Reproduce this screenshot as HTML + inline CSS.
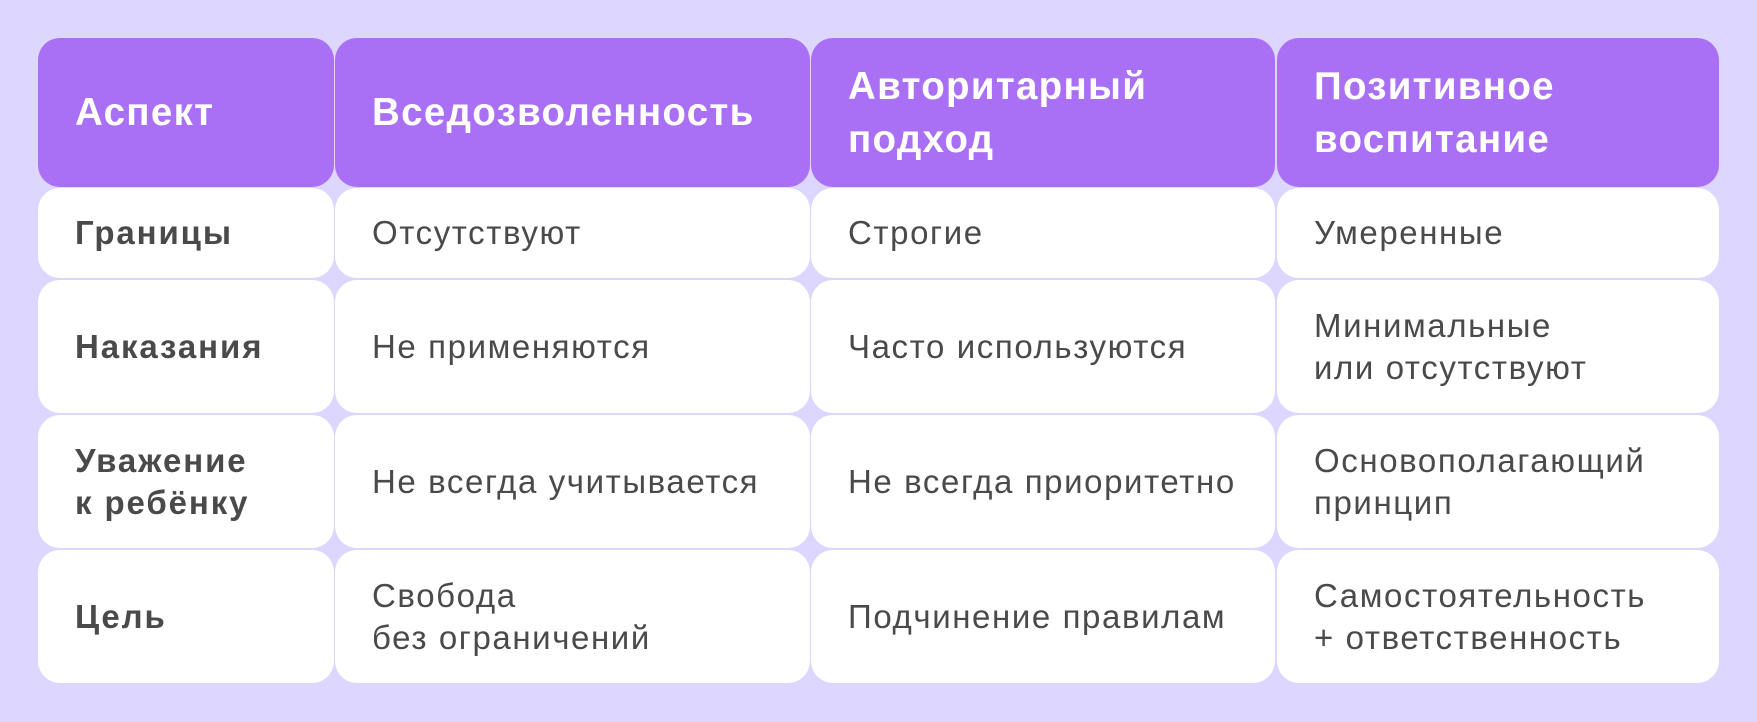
<!DOCTYPE html>
<html><head><meta charset="utf-8"><style>
body{margin:0;width:1757px;height:722px;background:#ddd6fe;position:relative;overflow:hidden;font-family:"Liberation Sans","DejaVu Sans",sans-serif}
.c{position:absolute;border-radius:22px;background:#fff;display:flex;align-items:center;box-sizing:border-box;padding-left:37px;color:#4a4a4a;font-size:33px;line-height:42px;letter-spacing:1.6px;white-space:nowrap}
.h{background:#a970f5;color:#fff;font-weight:bold;font-size:38.5px;line-height:53px;letter-spacing:1.3px}
.b{font-weight:bold;letter-spacing:1.9px}
</style></head><body>
<div class="c h" style="left:38px;top:38px;width:296px;height:149px">Аспект</div>
<div class="c h" style="left:335px;top:38px;width:475px;height:149px">Вседозволенность</div>
<div class="c h" style="left:811px;top:38px;width:464px;height:149px">Авторитарный<br>подход</div>
<div class="c h" style="left:1277px;top:38px;width:442px;height:149px">Позитивное<br>воспитание</div>

<div class="c b" style="left:38px;top:188px;width:296px;height:90px">Границы</div>
<div class="c" style="left:335px;top:188px;width:475px;height:90px">Отсутствуют</div>
<div class="c" style="left:811px;top:188px;width:464px;height:90px">Строгие</div>
<div class="c" style="left:1277px;top:188px;width:442px;height:90px">Умеренные</div>

<div class="c b" style="left:38px;top:280px;width:296px;height:133px">Наказания</div>
<div class="c" style="left:335px;top:280px;width:475px;height:133px">Не применяются</div>
<div class="c" style="left:811px;top:280px;width:464px;height:133px">Часто используются</div>
<div class="c" style="left:1277px;top:280px;width:442px;height:133px">Минимальные<br>или отсутствуют</div>

<div class="c b" style="left:38px;top:415px;width:296px;height:133px">Уважение<br>к ребёнку</div>
<div class="c" style="left:335px;top:415px;width:475px;height:133px">Не всегда учитывается</div>
<div class="c" style="left:811px;top:415px;width:464px;height:133px">Не всегда приоритетно</div>
<div class="c" style="left:1277px;top:415px;width:442px;height:133px">Основополагающий<br>принцип</div>

<div class="c b" style="left:38px;top:550px;width:296px;height:133px">Цель</div>
<div class="c" style="left:335px;top:550px;width:475px;height:133px">Свобода<br>без ограничений</div>
<div class="c" style="left:811px;top:550px;width:464px;height:133px">Подчинение правилам</div>
<div class="c" style="left:1277px;top:550px;width:442px;height:133px">Самостоятельность<br>+ ответственность</div>
</body></html>
